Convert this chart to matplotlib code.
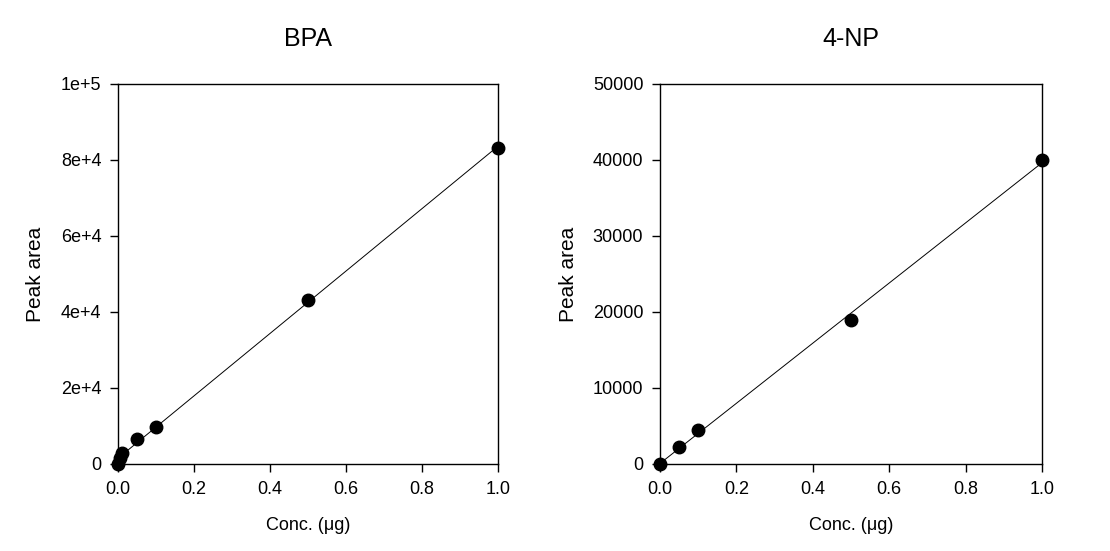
import numpy as np
import matplotlib
matplotlib.use("Agg")
import matplotlib.pyplot as plt
from matplotlib.ticker import FuncFormatter

plt.rcParams['font.family'] = ['Liberation Sans', 'DejaVu Sans']

# BPA calibration
bpa_conc = [0.0, 0.005, 0.01, 0.05, 0.1, 0.5, 1.0]
bpa_area = [0, 1500, 2800, 6600, 9800, 43200, 83200]

# 4-NP calibration
np_conc = [0.0, 0.05, 0.1, 0.5, 1.0]
np_area = [0, 2200, 4400, 19000, 40000]

bpa_yticks = [0, 20000, 40000, 60000, 80000, 100000]
bpa_ylabels = ["0", "2e+4", "4e+4", "6e+4", "8e+4", "1e+5"]
np_yticks = [0, 10000, 20000, 30000, 40000, 50000]
xticks = [0.0, 0.2, 0.4, 0.6, 0.8, 1.0]

fig = plt.figure(figsize=(11.1, 5.51), dpi=100)
ax1 = fig.add_axes([0.1063, 0.158, 0.3423, 0.6897])
ax2 = fig.add_axes([0.5946, 0.158, 0.3441, 0.6897])


def draw(ax, x, y, title, yticks, ylabels, ymax):
    x = np.asarray(x)
    y = np.asarray(y)
    slope, icpt = np.polyfit(x, y, 1)
    xs = np.array([0.0, 1.0])
    ax.plot(xs, slope * xs + icpt, color="black", lw=0.7, zorder=2)
    ax.plot(x, y, "o", color="black", ms=9, clip_on=False, zorder=3)
    ax.set_xlim(0, 1)
    ax.set_ylim(0, ymax)
    ax.set_xticks(xticks)
    ax.xaxis.set_major_formatter(FuncFormatter(lambda v, p: f"{v:.1f}"))
    ax.set_yticks(yticks)
    ax.set_yticklabels(ylabels)
    ax.tick_params(direction="out", length=6, width=1, labelsize=13, pad=6)
    ax.set_title(title, fontsize=18, pad=27)
    ax.set_xlabel("Conc. (\u03bcg)", fontsize=13, labelpad=14)
    ax.set_ylabel("Peak area", fontsize=15, labelpad=11)
    for s in ax.spines.values():
        s.set_linewidth(1)


draw(ax1, bpa_conc, bpa_area, "BPA", bpa_yticks, bpa_ylabels, 100000)
draw(ax2, np_conc, np_area, "4-NP", np_yticks, [str(v) for v in np_yticks], 50000)

fig.savefig("out.png", dpi=100)
